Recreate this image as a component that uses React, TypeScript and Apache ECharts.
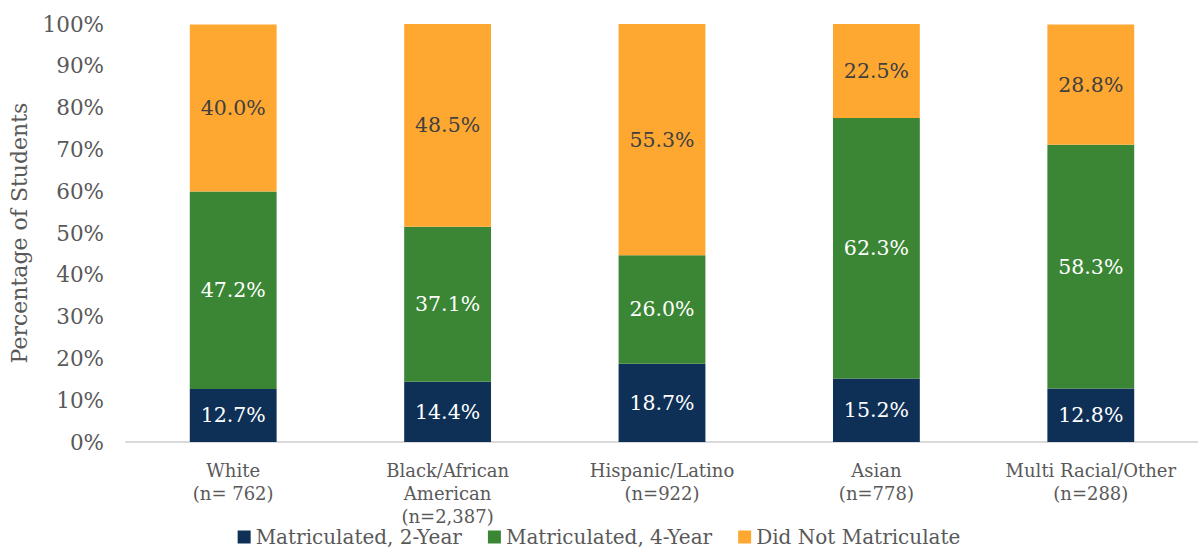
import React, { useEffect, useRef } from "react";
import * as echarts from "echarts";

const categories = [
  "White\n(n= 762)",
  "Black/African\nAmerican\n(n=2,387)",
  "Hispanic/Latino\n(n=922)",
  "Asian\n(n=778)",
  "Multi Racial/Other\n(n=288)",
];
const twoYear = [12.7, 14.4, 18.7, 15.2, 12.8];
const fourYear = [47.2, 37.1, 26.0, 62.3, 58.3];
const notMatric = [40.0, 48.5, 55.3, 22.5, 28.8];
const seriesNames = ["Matriculated, 2-Year", "Matriculated, 4-Year", "Did Not Matriculate"];

const FONT = "DejaVu Serif";

export default function App() {
  const ref = useRef<HTMLDivElement>(null);
  useEffect(() => {
    const chart = echarts.init(ref.current!, null, { renderer: "svg" });
    const label = (color: string) => ({
      show: true,
      position: "inside",
      color,
      fontFamily: FONT,
      fontSize: 20.5,
      formatter: (p: any) => p.value.toFixed(1) + "%",
    });
    chart.setOption({
      animation: false,
      textStyle: { fontFamily: FONT },
      grid: { left: 125, right: 0, top: 24, bottom: 108, containLabel: false },
      legend: {
        top: 526,
        left: "center",
        padding: 0,
        itemWidth: 13,
        itemHeight: 13,
        itemGap: 26,
        icon: "rect",
        textStyle: { fontFamily: FONT, fontSize: 20, lineHeight: 22, color: "#595959" },
        data: seriesNames,
      },
      xAxis: {
        type: "category",
        data: categories,
        axisLine: { lineStyle: { color: "#d9d9d9", width: 2 } },
        axisTick: { show: false },
        axisLabel: {
          color: "#595959",
          fontFamily: FONT,
          fontSize: 18,
          lineHeight: 23,
          margin: 17,
          interval: 0,
          hideOverlap: false,
        },
      },
      yAxis: {
        type: "value",
        min: 0,
        max: 100,
        interval: 10,
        name: "Percentage of Students",
        nameLocation: "middle",
        nameGap: 96,
        nameTextStyle: { color: "#595959", fontFamily: FONT, fontSize: 22 },
        splitLine: { show: false },
        axisLine: { show: false },
        axisTick: { show: false },
        axisLabel: { color: "#595959", fontFamily: FONT, fontSize: 21.5, margin: 22, formatter: "{value}%" },
      },
      series: [
        { name: seriesNames[0], type: "bar", stack: "s", data: twoYear, barWidth: "40.5%", itemStyle: { color: "#0e3057" }, label: label("#ffffff") },
        { name: seriesNames[1], type: "bar", stack: "s", data: fourYear, itemStyle: { color: "#3b8635" }, label: label("#ffffff") },
        { name: seriesNames[2], type: "bar", stack: "s", data: notMatric, itemStyle: { color: "#fea832" }, label: label("#404040") },
      ],
    });
    return () => chart.dispose();
  }, []);
  return <div ref={ref} style={{ width: 1198, height: 550, position: "absolute", left: 0, top: 0 }} />;
}
